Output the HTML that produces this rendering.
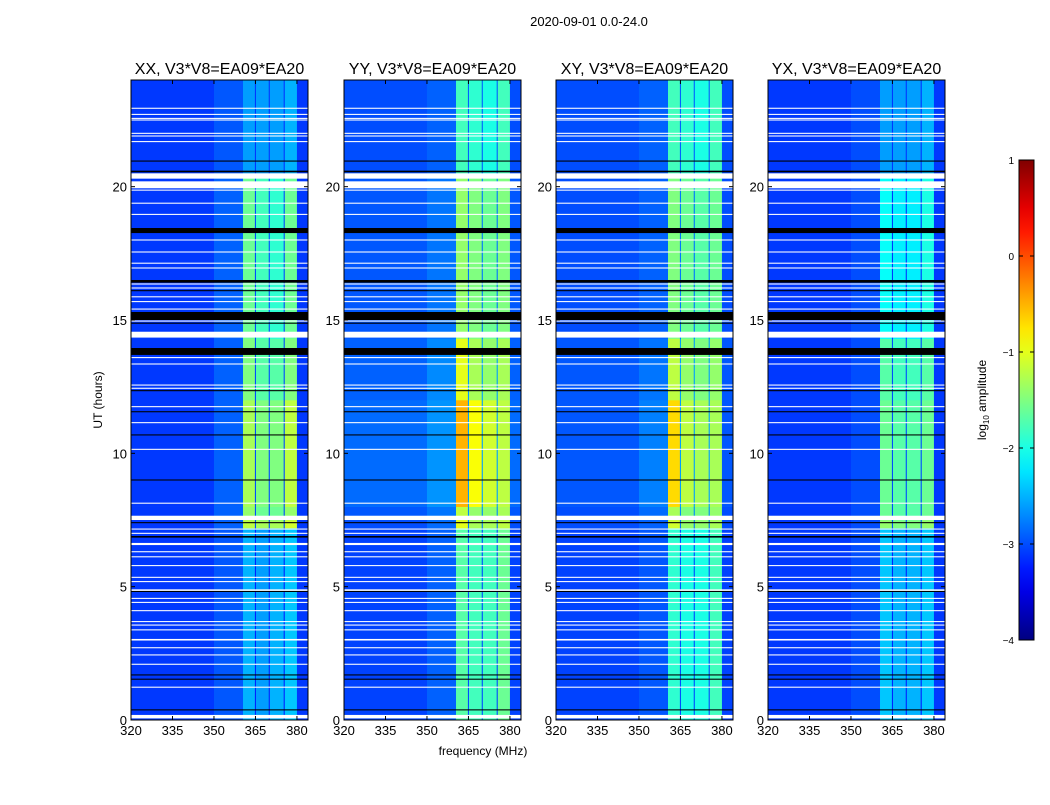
<!DOCTYPE html>
<html><head><meta charset="utf-8"><style>
body{margin:0;background:#fff;font-family:"Liberation Sans",sans-serif;}
svg text{font-family:"Liberation Sans",sans-serif;}
</style></head><body>
<svg id="fig" width="1050" height="800" viewBox="0 0 1050 800">
<rect width="1050" height="800" fill="#fff"/>
<text x="589" y="26" font-size="13" text-anchor="middle">2020-09-01 0.0-24.0</text>
<text x="483" y="755" font-size="12" text-anchor="middle">frequency (MHz)</text>
<text transform="translate(102,400) rotate(-90)" font-size="12" text-anchor="middle">UT (hours)</text>
<g id="panels"></g>
<g id="cbar"></g>
</svg>
<script>
const panelTitles=["XX, V3*V8=EA09*EA20","YY, V3*V8=EA09*EA20","XY, V3*V8=EA09*EA20","YX, V3*V8=EA09*EA20"];
const timeEdges=[0,7.2,7.5,8,12,14.3,20.4,24];
const freqEdges=[320,350,360.5,364.8,365.2,369.8,370.2,375.2,375.6,380,384];
// levels[segment][band]: bands low, mid, h1, notch, h2, notch, h3, notch, h4, tail
const xxLevels=[
[-3.1,-2.95,-2.5,-3.2,-2.6,-3.2,-2.5,-3.2,-2.4,-3.1],
[-3.1,-2.9,-1.2,-3.0,-1.3,-3.0,-1.3,-3.0,-1.1,-3.1],
[-3.1,-2.9,-1.4,-3.0,-1.6,-3.0,-1.6,-3.0,-1.4,-3.1],
[-3.1,-2.9,-1.3,-3.0,-1.5,-3.0,-1.5,-3.0,-1.2,-3.1],
[-3.1,-2.9,-1.5,-3.0,-1.7,-3.0,-1.7,-3.0,-1.5,-3.1],
[-3.1,-2.9,-1.6,-3.0,-1.8,-3.0,-1.9,-3.0,-1.6,-3.1],
[-3.1,-2.95,-2.6,-3.1,-2.6,-3.1,-2.6,-3.1,-2.5,-3.1]];
const yyLevels=[
[-3.05,-2.9,-1.7,-3.0,-1.8,-3.0,-1.8,-3.0,-1.6,-3.05],
[-3.0,-2.85,-1.0,-2.8,-1.3,-2.8,-1.3,-2.8,-1.2,-3.0],
[-2.95,-2.8,-1.2,-2.7,-1.4,-2.7,-1.4,-2.7,-1.3,-2.95],
[-2.85,-2.65,-0.5,-2.6,-0.9,-2.6,-1.1,-2.6,-1.2,-2.85],
[-2.9,-2.7,-1.0,-2.6,-1.3,-2.6,-1.4,-2.6,-1.3,-2.9],
[-2.95,-2.8,-1.4,-2.8,-1.5,-2.8,-1.6,-2.8,-1.5,-2.95],
[-3.0,-2.9,-1.8,-2.9,-1.9,-2.9,-2.0,-2.9,-1.8,-3.0]];
const xyLevels=[
[-3.05,-2.95,-1.9,-3.0,-2.0,-3.0,-2.0,-3.0,-1.8,-3.05],
[-3.0,-2.9,-1.1,-2.8,-1.4,-2.8,-1.4,-2.8,-1.3,-3.0],
[-3.0,-2.85,-1.3,-2.7,-1.5,-2.7,-1.5,-2.7,-1.4,-3.0],
[-2.95,-2.75,-0.7,-2.6,-1.2,-2.6,-1.3,-2.6,-1.3,-2.95],
[-2.95,-2.8,-1.2,-2.6,-1.4,-2.6,-1.5,-2.6,-1.4,-2.95],
[-3.0,-2.9,-1.5,-2.8,-1.6,-2.8,-1.7,-2.8,-1.6,-3.0],
[-3.0,-2.9,-1.8,-2.9,-1.9,-2.9,-2.0,-2.9,-1.8,-3.0]];
const yxLevels=[
[-3.1,-3.0,-2.4,-3.2,-2.5,-3.2,-2.5,-3.2,-2.4,-3.1],
[-3.1,-3.0,-1.4,-3.0,-1.5,-3.0,-1.5,-3.0,-1.4,-3.1],
[-3.1,-3.0,-1.6,-3.0,-1.7,-3.0,-1.7,-3.0,-1.6,-3.1],
[-3.1,-3.0,-1.6,-3.0,-1.7,-3.0,-1.7,-3.0,-1.6,-3.1],
[-3.1,-3.0,-1.7,-3.0,-1.8,-3.0,-1.8,-3.0,-1.7,-3.1],
[-3.1,-3.0,-2.1,-3.1,-2.2,-3.1,-2.2,-3.1,-2.0,-3.1],
[-3.1,-3.0,-2.6,-3.1,-2.6,-3.1,-2.6,-3.1,-2.5,-3.1]];
const panelLevels=[xxLevels,yyLevels,xyLevels,yxLevels];
const whiteRows=[[22.92,22.96],[22.69,22.73],[22.54,22.58],[22.48,22.52],[21.98,22.02],[21.88,21.92],[21.67,21.71],[20.3,20.5],[19.94,20.2],[19.85,19.89],[19.36,19.4],[18.94,18.98],[17.98,18.02],[17.53,17.57],[17.11,17.15],[16.93,16.97],[16.33,16.37],[16.18,16.22],[15.85,15.89],[15.67,15.71],[15.39,15.43],[14.94,14.98],[14.34,14.56],[13.57,13.61],[13.33,13.37],[12.54,12.58],[12.42,12.46],[11.73,11.77],[11.13,11.17],[10.13,10.17],[8.11,8.15],[7.5,7.66],[7.14,7.18],[6.98,7.02],[6.56,6.64],[6.29,6.33],[6.1,6.14],[5.77,5.81],[5.33,5.37],[5.17,5.21],[4.84,4.9],[4.54,4.58],[4.39,4.43],[4.08,4.12],[3.67,3.71],[3.54,3.58],[3.36,3.4],[2.98,3.04],[2.69,2.73],[2.42,2.46],[2.07,2.11],[1.21,1.25],[0.06,0.19]];
const blackRows=[[20.94,20.98],[20.54,20.6],[18.26,18.45],[16.4,16.5],[16.08,16.12],[15.0,15.3],[14.86,14.9],[13.69,13.95],[12.33,12.37],[11.54,11.58],[10.67,10.71],[8.98,9.02],[7.38,7.42],[6.84,6.9],[4.8,4.84],[1.67,1.71],[1.51,1.55],[0.36,0.4]];
const xTicks=[320,335,350,365,380];
const yTicks=[0,5,10,15,20];
const cbTicks=[1,0,-1,-2,-3,-4];
const cbLabels=["1","0","\u22121","\u22122","\u22123","\u22124"];

const NS="http://www.w3.org/2000/svg";
const panelLeft=[131,344,556,768], PW=177, PT=80, PH=640;
const fMin=320,fMax=384,tMin=0,tMax=24;
function jet(v){const x=Math.max(0,Math.min(1,(v+4)/5));const c=t=>Math.round(255*Math.max(0,Math.min(1,1.5-Math.abs(4*x-t))));return `rgb(${c(3)},${c(2)},${c(1)})`;}
function mk(tag,attrs,parent){const e=document.createElementNS(NS,tag);for(const k in attrs)e.setAttribute(k,attrs[k]);parent.appendChild(e);return e;}
const panelsG=document.getElementById('panels');
panelLeft.forEach((L,p)=>{
  const xs=f=>L+(f-fMin)/(fMax-fMin)*PW;
  const ys=t=>PT+PH-(t-tMin)/(tMax-tMin)*PH;
  const g=mk('g',{},panelsG);
  
  
  const lv=panelLevels[p];
  for(let s=0;s<timeEdges.length-1;s++){
    for(let b=0;b<freqEdges.length-1;b++){
      const x0=xs(freqEdges[b]),x1=xs(freqEdges[b+1]),y0=ys(timeEdges[s+1]),y1=ys(timeEdges[s]);
      const r=mk('rect',{x:x0,y:y0,width:x1-x0+0.3,height:y1-y0+0.3,fill:jet(lv[s][b])},g);
      
      
    }
  }
  whiteRows.forEach(([a,b])=>{const r=mk('rect',{x:L,y:ys(b),width:PW,height:Math.max(1,ys(a)-ys(b)),fill:'#fff'},g);
    
    });
  blackRows.forEach(([a,b])=>{const r=mk('rect',{x:L,y:ys(b),width:PW,height:Math.max(1,ys(a)-ys(b)),fill:'#000'},g);
    
    });
  const fr=mk('rect',{x:L,y:PT,width:PW,height:PH,fill:'none',stroke:'#000','stroke-width':1},g);
  
  
  const t=mk('text',{x:L+PW/2,y:PT-6,'font-size':16,'text-anchor':'middle'},g);t.textContent=panelTitles[p];
  
  
  xTicks.forEach(v=>{const x=xs(v);
    mk('line',{x1:x,x2:x,y1:PT+PH,y2:PT+PH-4,stroke:'#000'},g);mk('line',{x1:x,x2:x,y1:PT,y2:PT+4,stroke:'#000'},g);
    const tl=mk('text',{x:x,y:PT+PH+15,'font-size':13,'text-anchor':'middle'},g);tl.textContent=v;
    
    });
  yTicks.forEach(v=>{const y=ys(v);
    mk('line',{x1:L,x2:L+4,y1:y,y2:y,stroke:'#000'},g);mk('line',{x1:L+PW,x2:L+PW-4,y1:y,y2:y,stroke:'#000'},g);
    const tl=mk('text',{x:L-4,y:y+5,'font-size':13,'text-anchor':'end'},g);tl.textContent=v;
    
    });
});
const cb=document.getElementById('cbar');
const CX=1019,CW=15,CT=160,CH=480;
const cys=v=>CT+(1-v)/5*CH;
const defs=mk('defs',{},cb);const grad=mk('linearGradient',{id:'jetg',x1:0,y1:1,x2:0,y2:0},defs);
for(let i=0;i<=20;i++){mk('stop',{offset:i/20,'stop-color':jet(-4+5*i/20)},grad);}
const cr=mk('rect',{x:CX,y:CT,width:CW,height:CH,fill:'url(#jetg)',stroke:'#000'},cb);


cbTicks.forEach((v,i)=>{const y=cys(v);
  mk('line',{x1:CX,x2:CX+4,y1:y,y2:y,stroke:'#000'},cb);mk('line',{x1:CX+CW,x2:CX+CW-4,y1:y,y2:y,stroke:'#000'},cb);
  const tl=mk('text',{x:CX-5,y:y+4,'font-size':10,'text-anchor':'end'},cb);tl.textContent=cbLabels[i];
  
  });
const cl=mk('text',{transform:'translate(986,400) rotate(-90)','font-size':12,'text-anchor':'middle'},cb);
cl.innerHTML='log<tspan font-size="8" dy="3">10</tspan><tspan dy="-3"> amplitude</tspan>';


</script>
</body></html>
